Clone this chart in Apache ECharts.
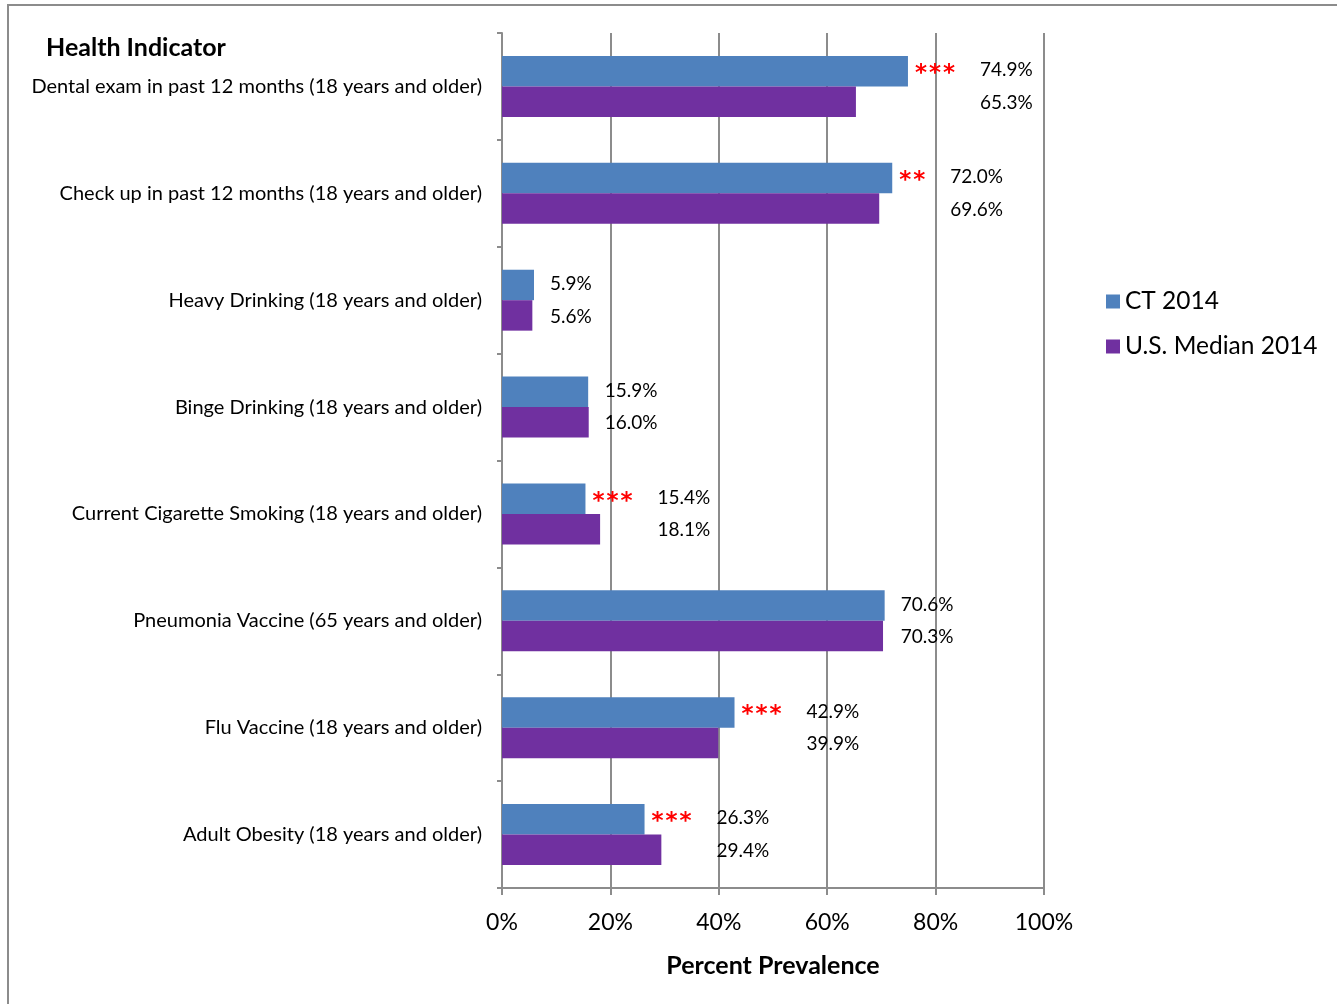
<!DOCTYPE html>
<html>
<head>
<meta charset="utf-8">
<script src="https://cdn.jsdelivr.net/npm/echarts@6/dist/echarts.min.js"></script>
<style>
  html, body { margin: 0; padding: 0; background: #fff; }
  #chart { position: absolute; left: 0; top: 0; width: 1337px; height: 1004px; }
  #frame { position: absolute; left: 7px; top: 4px; width: 1400px; height: 1100px; border: 2px solid #8c8c8c; pointer-events: none; }
</style>
</head>
<body>
<div id="chart"></div>
<div id="frame"></div>
<script>
const categories = [
  'Dental exam in past 12 months (18 years and older)',
  'Check up in past 12 months (18 years and older)',
  'Heavy Drinking (18 years and older)',
  'Binge Drinking (18 years and older)',
  'Current Cigarette Smoking (18 years and older)',
  'Pneumonia Vaccine (65 years and older)',
  'Flu Vaccine (18 years and older)',
  'Adult Obesity (18 years and older)'
];
const ct2014 = [74.9, 72.0, 5.9, 15.9, 15.4, 70.6, 42.9, 26.3];
const usMedian2014 = [65.3, 69.6, 5.6, 16.0, 18.1, 70.3, 39.9, 29.4];
const significance = ['***', '**', '', '', '***', '', '***', '***'];
const xTicks = [0, 20, 40, 60, 80, 100];

const FONT = 'Lato';
const BLUE = '#4F81BD';
const PURPLE = '#7030A0';
const GRIDC = '#8c8c8c';
const CAT_GAP = 0.43;

const chart = echarts.init(document.getElementById('chart'));

function renderLabels(params, api) {
  const i = api.value(0);
  const band = api.size([0, 1])[1];
  const thick = band * (1 - CAT_GAP) / 2;
  const yc = api.coord([0, i])[1];
  const ctEnd = api.coord([ct2014[i], i])[0];
  const usEnd = api.coord([usMedian2014[i], i])[0];
  const stars = significance[i];
  const starPitch = 14;
  const maxEnd = Math.max(ctEnd, usEnd);
  let labelX;
  if (stars) {
    labelX = Math.max(maxEnd, ctEnd + 6 + stars.length * starPitch) + 24;
  } else {
    labelX = maxEnd + 16;
  }
  const children = [];
  for (let k = 0; k < stars.length; k++) {
    children.push({
      type: 'text',
      style: {
        text: '*', x: ctEnd + 6 + k * starPitch + starPitch / 2, y: yc - thick / 2 + 3,
        fill: '#ff0000', font: 'bold 23px "DejaVu Sans"', align: 'center', verticalAlign: 'middle'
      }
    });
  }
  children.push({
    type: 'text',
    style: { text: ct2014[i].toFixed(1) + '%', x: labelX, y: yc - thick / 2 - 1, fill: '#000',
      font: '19px ' + FONT, align: 'left', verticalAlign: 'middle' }
  });
  children.push({
    type: 'text',
    style: { text: usMedian2014[i].toFixed(1) + '%', x: labelX, y: yc + thick / 2 + 1, fill: '#000',
      font: '19px ' + FONT, align: 'left', verticalAlign: 'middle' }
  });
  return { type: 'group', children };
}

chart.setOption({
  animation: false,
  textStyle: { fontFamily: FONT },
  title: {
    text: 'Health Indicator', left: 41, top: 30,
    textStyle: { fontFamily: FONT, fontWeight: 'bold', fontSize: 25, color: '#000' }
  },
  legend: {
    orient: 'vertical', left: 1101, top: 284,
    itemWidth: 14, itemHeight: 14, itemGap: 20, icon: 'rect',
    textStyle: { fontFamily: FONT, fontSize: 24.5, color: '#000' },
    data: ['CT 2014', 'U.S. Median 2014']
  },
  grid: { left: 502, right: 293, top: 33, bottom: 116, containLabel: false },
  xAxis: {
    type: 'value', min: xTicks[0], max: xTicks[xTicks.length - 1], interval: 20,
    name: 'Percent Prevalence', nameLocation: 'middle', nameGap: 65,
    nameTextStyle: { fontFamily: FONT, fontWeight: 'bold', fontSize: 25, color: '#000' },
    axisLine: { show: true, lineStyle: { color: GRIDC, width: 2 } },
    axisTick: { show: true, length: 7, lineStyle: { color: GRIDC, width: 2 } },
    axisLabel: { formatter: '{value}%', fontSize: 23, color: '#000', margin: 23, fontFamily: FONT },
    splitLine: { show: true, lineStyle: { color: GRIDC, width: 2 } }
  },
  yAxis: {
    type: 'category', data: categories, inverse: true,
    axisLine: { show: true, lineStyle: { color: GRIDC, width: 2 } },
    axisTick: { show: true, length: 5, lineStyle: { color: GRIDC, width: 2 } },
    axisLabel: { fontSize: 20, color: '#000', margin: 20, fontFamily: FONT }
  },
  series: [
    { name: 'CT 2014', type: 'bar', data: ct2014, barGap: '0%', barCategoryGap: (CAT_GAP * 100) + '%',
      itemStyle: { color: BLUE } },
    { name: 'U.S. Median 2014', type: 'bar', data: usMedian2014,
      itemStyle: { color: PURPLE } },
    { type: 'custom', name: 'labels', renderItem: renderLabels, data: categories.map((c, i) => [i]),
      encode: { y: 0 }, silent: true, z: 5 }
  ]
});
</script>
</body>
</html>
